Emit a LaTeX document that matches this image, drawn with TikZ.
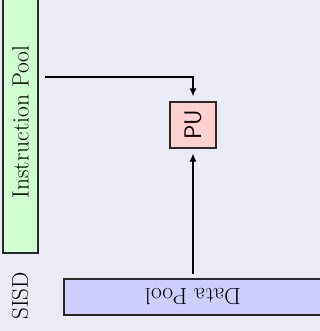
\documentclass[tikz,border=0pt]{standalone}
\usetikzlibrary{arrows.meta}
\definecolor{bgc}{RGB}{235,235,245}
\definecolor{ipc}{RGB}{208,255,208}
\definecolor{puc}{RGB}{255,208,208}
\definecolor{dpc}{RGB}{206,206,255}
\definecolor{edgec}{RGB}{40,40,40}
\begin{document}
\begin{tikzpicture}[x=1pt,y=-1pt,
  box/.style={draw=edgec,line width=1.2pt,inner sep=0pt,font=\fontsize{23.5}{26}\selectfont},
  conn/.style={line width=1.3pt,-{Latex[length=8pt,width=7pt]}}]
\useasboundingbox (0,0) rectangle (320,331);
\fill[bgc] (0,0) rectangle (320,331);
\clip (0,0) rectangle (320,331);
\node[box,fill=ipc,rotate=90,minimum width=262pt,minimum height=35pt] (ipool) at (20.5,122) {Instruction Pool};
\node[box,fill=puc,rotate=90,minimum width=46pt,minimum height=46pt,font=\sffamily\fontsize{24}{26}\selectfont] (pu) at (193,125) {PU};
\node[box,fill=dpc,rotate=180,minimum width=258pt,minimum height=36pt] (dpool) at (193,297) {Data Pool};
\node[rotate=90,font=\fontsize{23}{26}\selectfont,inner sep=0pt] (sisd) at (20,296) {SISD};
\coordinate (s1) at (45,77);
\draw[conn,shorten >=5pt] (s1) -| (pu.east);
\draw[conn,shorten >=5pt,shorten <=4pt] (dpool.south) -- (pu.west);
\end{tikzpicture}
\end{document}
